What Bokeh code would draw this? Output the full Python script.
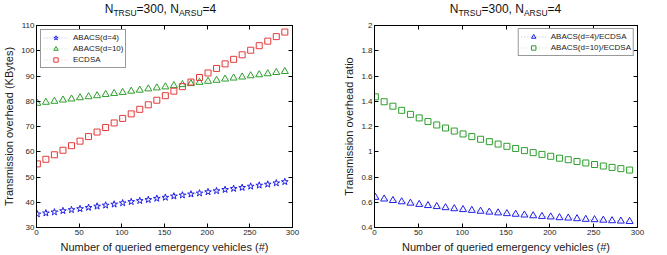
from bokeh.plotting import figure
from bokeh.layouts import row, column
from bokeh.models import (LinearAxis, Legend, LegendItem, FixedTicker, Range1d,
                          CustomJSTickFormatter, Div)
from bokeh.embed import file_html
from bokeh.resources import INLINE

# Number of queried emergency vehicles
vehicles = [1, 11, 21, 31, 41, 51, 61, 71, 81, 91, 101, 111, 121, 131, 141,
            151, 161, 171, 181, 191, 201, 211, 221, 231, 241, 251, 261, 271, 281, 291]

# Transmission overhead (KBytes)
abacs_d4 = [35.3, 35.7, 36.1, 36.6, 37.0, 37.4, 37.9, 38.4, 38.8, 39.2,
            39.7, 40.2, 40.6, 41.0, 41.5, 41.9, 42.4, 42.8, 43.2, 43.6,
            44.1, 44.5, 45.0, 45.4, 45.8, 46.3, 46.7, 47.1, 47.6, 48.1]
abacs_d10 = [79.2, 79.6, 80.0, 80.5, 80.9, 81.4, 81.8, 82.2, 82.7, 83.1,
             83.5, 84.0, 84.4, 84.9, 85.3, 85.7, 86.2, 86.6, 87.0, 87.5,
             87.9, 88.3, 88.8, 89.2, 89.6, 90.1, 90.5, 90.9, 91.4, 91.8]
ecdsa = [55.2, 57.0, 58.8, 60.6, 62.4, 64.2, 66.0, 67.8, 69.6, 71.4,
         73.2, 75.0, 76.8, 78.6, 80.4, 82.2, 84.0, 85.8, 87.6, 89.4,
         91.2, 93.0, 94.8, 96.6, 98.4, 100.2, 102.0, 103.8, 105.6, 107.4]

# Transmission overhead ratios
ratio_d4 = [0.639, 0.626, 0.614, 0.604, 0.593, 0.583, 0.574, 0.566, 0.557, 0.549,
            0.542, 0.536, 0.529, 0.522, 0.516, 0.510, 0.505, 0.499, 0.493, 0.488,
            0.484, 0.478, 0.475, 0.470, 0.465, 0.462, 0.458, 0.454, 0.451, 0.448]
ratio_d10 = [1.435, 1.396, 1.361, 1.328, 1.296, 1.268, 1.239, 1.212, 1.188, 1.164,
             1.141, 1.120, 1.099, 1.080, 1.061, 1.043, 1.026, 1.009, 0.993, 0.979,
             0.964, 0.949, 0.937, 0.923, 0.911, 0.899, 0.887, 0.876, 0.866, 0.855]

x_ticks = [0, 50, 100, 150, 200, 250, 300]
y_ticks_left = [30, 40, 50, 60, 70, 80, 90, 100, 110]
y_ticks_right = [0.4, 0.6, 0.8, 1, 1.2, 1.4, 1.6, 1.8, 2]

BLUE = "#1f1fe6"
GREEN = "#2e9e2e"
RED = "#e23b3b"
FONT = "Liberation Sans"
TITLE_H = 22
H = 255 - TITLE_H


def style_axis(ax, show_labels=True):
    ax.major_tick_in = 4
    ax.major_tick_out = 0
    ax.minor_tick_in = 0
    ax.minor_tick_out = 0
    ax.axis_line_color = "black"
    ax.major_tick_line_color = "black"
    ax.major_label_text_font = FONT
    ax.major_label_text_color = "#262626"
    ax.major_label_text_font_size = "8px"
    ax.axis_label_text_font = FONT
    ax.axis_label_text_font_style = "normal"
    ax.axis_label_text_font_size = "11px"
    ax.axis_label_text_color = "#1a1a1a"
    if show_labels:
        ax.major_label_standoff = 2
        ax.axis_label_standoff = 3
    else:
        # tick marks only on the opposite sides of the frame
        ax.formatter = CustomJSTickFormatter(code="return ''")
        ax.major_label_standoff = 0


def make_panel(width, left, right, y_lo, y_hi, y_ticks, y_label):
    p = figure(width=width, height=H, output_backend="svg", toolbar_location=None,
               x_range=Range1d(0, 300), y_range=Range1d(y_lo, y_hi),
               min_border_left=left, min_border_right=right,
               min_border_top=3, min_border_bottom=26)
    p.xgrid.visible = False
    p.ygrid.visible = False
    p.outline_line_color = "black"
    p.outline_line_width = 1
    p.background_fill_color = "white"
    p.border_fill_color = "white"
    p.xaxis.ticker = FixedTicker(ticks=x_ticks)
    p.yaxis.ticker = FixedTicker(ticks=y_ticks)
    p.xaxis.axis_label = "Number of queried emergency vehicles (#)"
    p.yaxis.axis_label = y_label
    for ax in p.xaxis + p.yaxis:
        style_axis(ax)
    top = LinearAxis(ticker=FixedTicker(ticks=x_ticks))
    rgt = LinearAxis(ticker=FixedTicker(ticks=y_ticks))
    style_axis(top, False)
    style_axis(rgt, False)
    p.add_layout(top, "above")
    p.add_layout(rgt, "right")
    return p


def make_title(width, center):
    # N_TRSU=300, N_ARSU=4 with subscripts, centred over the frame
    box = 200
    html = (
        f'<div style="position:absolute; left:{center - box / 2}px; top:2px; '
        f'width:{box}px; text-align:center; white-space:nowrap; '
        f'font-family:\'{FONT}\'; font-size:12px; color:#111; line-height:14px;">'
        'N<sub style="font-size:8.5px; vertical-align:-3px; line-height:0;">TRSU</sub>=300, '
        'N<sub style="font-size:8.5px; vertical-align:-3px; line-height:0;">ARSU</sub>=4</div>'
    )
    return Div(text=html, width=width, height=TITLE_H, margin=(0, 0, 0, 0),
               styles={"position": "relative"})


def series(p, x, y, color, marker, size):
    ln = p.line(x, y, line_color=color, line_alpha=0.3, line_width=1, line_dash="1 2")
    sc = p.scatter(x, y, marker=marker, size=size, line_color=color,
                   fill_color=None, line_width=1)
    return [ln, sc]


def legend_style(lg):
    lg.label_text_font = FONT
    lg.label_text_font_size = "8px"
    lg.label_text_color = "#1a1a1a"
    lg.label_height = 11
    lg.glyph_height = 11
    lg.glyph_width = 25
    lg.label_standoff = 5
    lg.spacing = 0
    lg.padding = 2
    lg.margin = 4
    lg.border_line_color = "#333333"
    lg.border_line_width = 1
    lg.background_fill_color = "white"
    lg.background_fill_alpha = 1


# Left panel: overhead in KBytes
p1 = make_panel(330, 29, 38, 30, 110, y_ticks_left, "Transmission overhead (KBytes)")
r_d4 = series(p1, vehicles, abacs_d4, BLUE, "star", 7)
r_d10 = series(p1, vehicles, abacs_d10, GREEN, "triangle", 7)
r_ec = series(p1, vehicles, ecdsa, RED, "square", 6)
lg1 = Legend(items=[LegendItem(label="ABACS(d=4)", renderers=r_d4),
                    LegendItem(label="ABACS(d=10)", renderers=r_d10),
                    LegendItem(label="ECDSA", renderers=r_ec)],
             location="top_left")
legend_style(lg1)
p1.add_layout(lg1)

# Right panel: overhead ratio
p2 = make_panel(337, 44, 30, 0.4, 2, y_ticks_right, "Transmission overhead ratio")
p2.yaxis[0].major_label_overrides = {1: "1", 2: "2"}
q_d4 = series(p2, vehicles, ratio_d4, BLUE, "triangle", 7)
q_d10 = series(p2, vehicles, ratio_d10, GREEN, "square", 6)
lg2 = Legend(items=[LegendItem(label="ABACS(d=4)/ECDSA", renderers=q_d4),
                    LegendItem(label="ABACS(d=10)/ECDSA", renderers=q_d10)],
             location="top_right")
legend_style(lg2)
lg2.margin = 3
p2.add_layout(lg2)

layout = row(column(make_title(330, 160.5), p1, spacing=0),
             column(make_title(337, 175.5), p2, spacing=0), spacing=0)
open("out.html", "w").write(file_html(layout, INLINE))
